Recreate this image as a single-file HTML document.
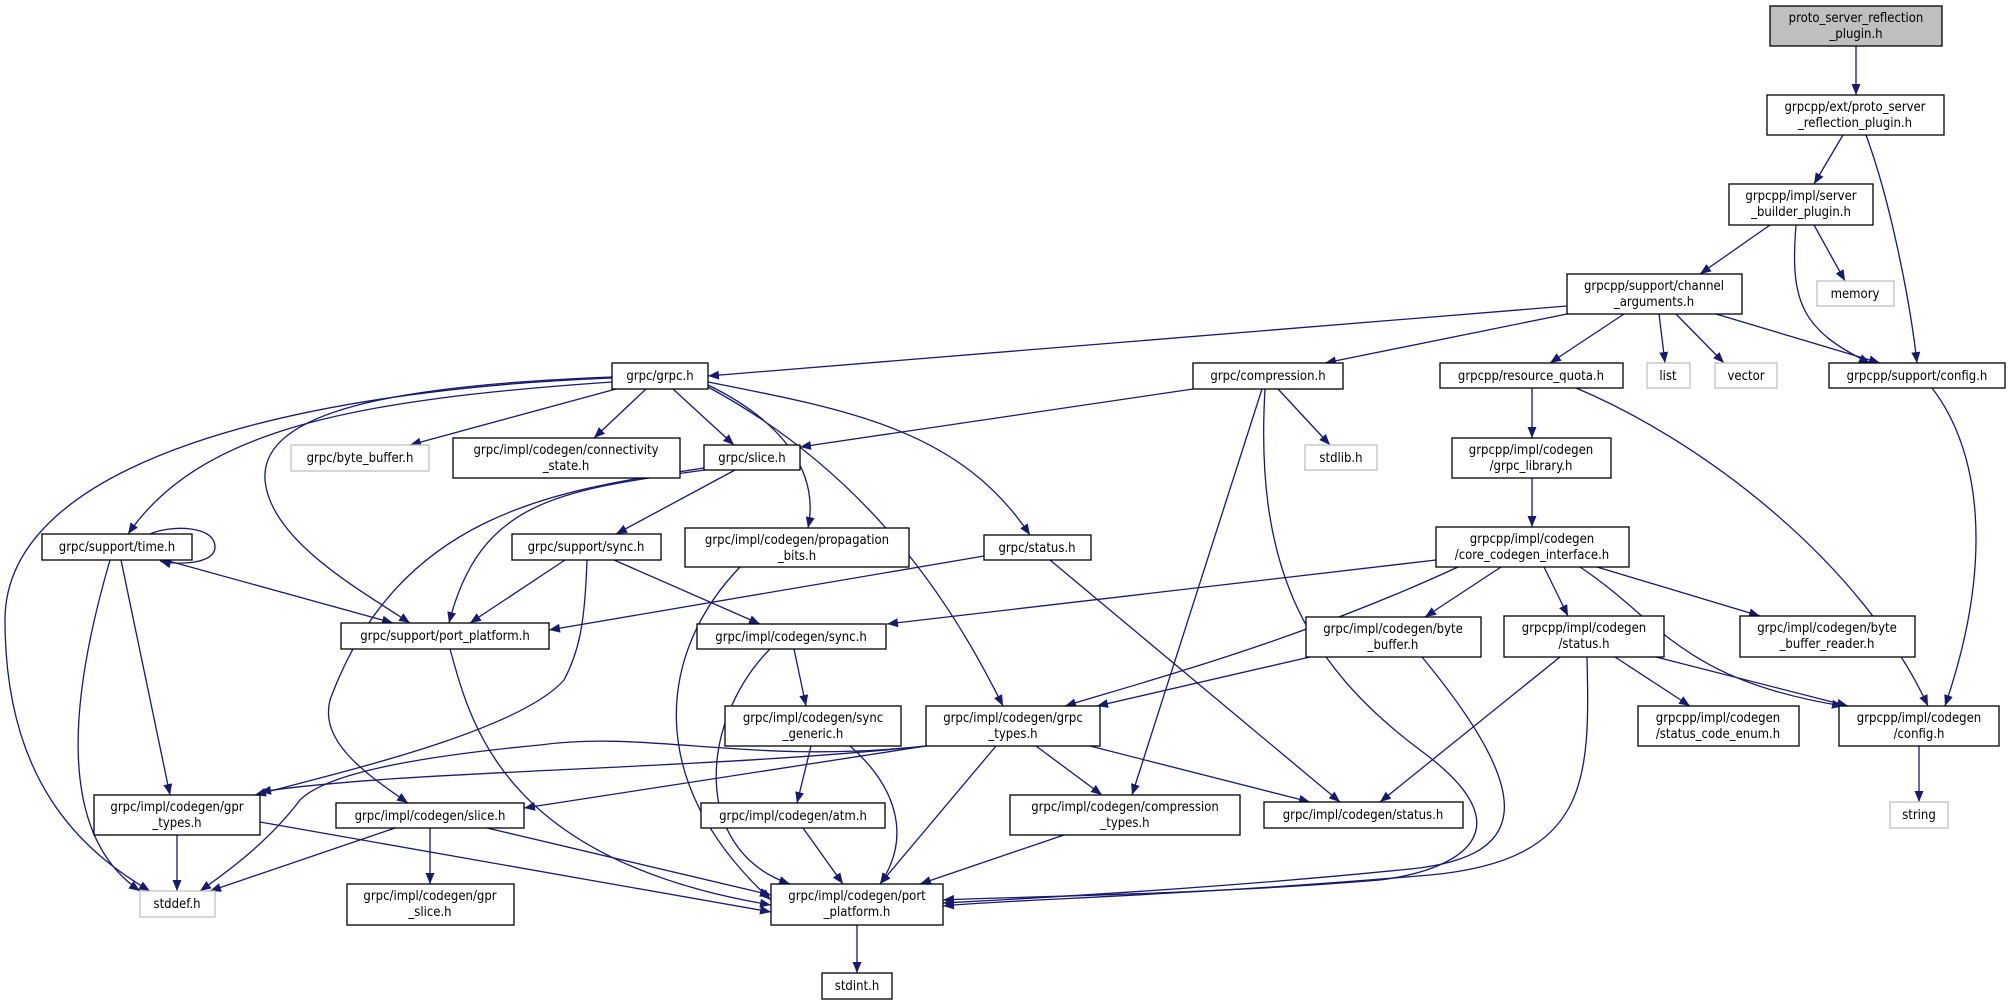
<!DOCTYPE html>
<html><head><meta charset="utf-8"><style>
html,body{margin:0;padding:0;background:#fff;width:2010px;height:1005px;overflow:hidden}
svg text{font-family:"DejaVu Sans Condensed","DejaVu Sans","Liberation Sans",sans-serif;font-stretch:condensed;font-size:13px;fill:#000;text-anchor:middle}
.n{fill:#fff;stroke:#000;stroke-width:1.3}
.g{fill:#fff;stroke:#bfbfbf;stroke-width:1.3}
.e{fill:none;stroke:#191970;stroke-width:1.3;marker-end:url(#a)}
</style></head><body>
<svg width="2010" height="1005" viewBox="0 0 2010 1005" xmlns="http://www.w3.org/2000/svg">
<defs><marker id="a" markerUnits="userSpaceOnUse" markerWidth="12" markerHeight="10" refX="11" refY="4.5" orient="auto"><path d="M0,0 L11,4.5 L0,9 z" fill="#191970"/></marker></defs>
<g>
<path class="e" d="M1856,46 L1856,95"/>
<path class="e" d="M1843,135 L1814,184"/>
<path class="e" d="M1866,135 C1890,200 1910,300 1917,363"/>
<path class="e" d="M1770,225 L1700,274"/>
<path class="e" d="M1814,225 L1845,281"/>
<path class="e" d="M1796,225 C1790,300 1800,330 1870,363"/>
<path class="e" d="M1567,306 L708,376"/>
<path class="e" d="M1567,314 L1325,363"/>
<path class="e" d="M1624,314 L1550,363"/>
<path class="e" d="M1659,314 L1665,363"/>
<path class="e" d="M1676,314 L1724,363"/>
<path class="e" d="M1716,314 L1880,363"/>
<path class="e" d="M1932,388 C1980,450 1995,560 1945,706"/>
<path class="e" d="M1532,388 L1532,438"/>
<path class="e" d="M1576,388 C1700,440 1860,560 1928,706"/>
<path class="e" d="M1532,478 L1532,527"/>
<path class="e" d="M1436,560 L887,624"/>
<path class="e" d="M1458,567 C1300,640 1150,680 1065,706"/>
<path class="e" d="M1501,567 L1425,617"/>
<path class="e" d="M1544,567 L1568,616"/>
<path class="e" d="M1597,567 L1760,616"/>
<path class="e" d="M1580,567 C1660,620 1680,680 1843,706"/>
<path class="e" d="M612,378 C300,390 5,460 5,620 C5,780 80,850 150,891"/>
<path class="e" d="M612,382 C350,400 200,430 128,534"/>
<path class="e" d="M612,377 C400,385 260,410 265,480 C270,540 360,590 410,623"/>
<path class="e" d="M616,389 L410,445"/>
<path class="e" d="M646,389 L594,438"/>
<path class="e" d="M673,389 L734,445"/>
<path class="e" d="M708,385 C780,420 820,470 808,528"/>
<path class="e" d="M708,387 C880,480 960,620 1003,706"/>
<path class="e" d="M708,382 C850,410 960,430 1030,535"/>
<path class="e" d="M1193,389 L800,447"/>
<path class="e" d="M1278,389 L1330,445"/>
<path class="e" d="M1262,389 L1132,795"/>
<path class="e" d="M1265,389 C1255,560 1300,660 1420,750 C1530,830 1460,870 1380,880 C1200,895 1000,897 943,900"/>
<path class="e" d="M705,470 C560,490 480,500 449,623"/>
<path class="e" d="M735,470 L616,534"/>
<path class="e" d="M704,468 C560,490 400,510 330,700 C320,740 360,770 408,803"/>
<path class="e" d="M150,534 C170,525 215,525 215,547 C215,565 175,565 160,561"/>
<path class="e" d="M165,560 L393,623"/>
<path class="e" d="M121,560 L170,795"/>
<path class="e" d="M110,560 C75,680 50,830 140,891"/>
<path class="e" d="M565,560 L470,623"/>
<path class="e" d="M614,560 L760,624"/>
<path class="e" d="M587,560 C585,620 580,650 564,680 C520,730 350,770 255,795"/>
<path class="e" d="M740,567 C660,650 640,780 771,900"/>
<path class="e" d="M984,556 L549,630"/>
<path class="e" d="M1050,560 L1340,802"/>
<path class="e" d="M450,649 C470,720 500,860 771,905"/>
<path class="e" d="M794,649 L806,706"/>
<path class="e" d="M770,649 C700,720 690,850 790,884"/>
<path class="e" d="M811,746 L797,803"/>
<path class="e" d="M850,746 C900,790 910,840 880,884"/>
<path class="e" d="M803,828 L843,884"/>
<path class="e" d="M926,746 C750,765 650,730 540,745 C380,760 320,780 300,800 C270,840 230,870 200,891"/>
<path class="e" d="M926,746 C700,770 400,770 260,792"/>
<path class="e" d="M926,746 L524,808"/>
<path class="e" d="M996,746 L880,884"/>
<path class="e" d="M1036,746 L1102,795"/>
<path class="e" d="M1090,746 L1310,802"/>
<path class="e" d="M1310,657 L1097,706"/>
<path class="e" d="M1422,657 C1540,800 1530,860 1400,870 C1200,890 1000,900 943,903"/>
<path class="e" d="M1560,657 L1380,802"/>
<path class="e" d="M1615,657 L1690,706"/>
<path class="e" d="M1656,657 L1848,706"/>
<path class="e" d="M1587,657 C1590,780 1590,860 1430,875 C1200,895 1000,900 943,906"/>
<path class="e" d="M1919,746 L1919,802"/>
<path class="e" d="M177,835 L177,891"/>
<path class="e" d="M260,822 L771,912"/>
<path class="e" d="M395,828 L210,891"/>
<path class="e" d="M430,828 L430,884"/>
<path class="e" d="M487,828 L771,895"/>
<path class="e" d="M1064,835 L920,884"/>
<path class="e" d="M857,925 L857,973"/>
</g>
<g>
<rect x="1770" y="6" width="172" height="40" fill="#bfbfbf" stroke="#000" stroke-width="1.3"/>
<text x="1856" y="22">proto_server_reflection</text><text x="1856" y="38">_plugin.h</text>
<rect class="n" x="1767" y="95" width="177" height="40"/><text x="1855" y="111">grpcpp/ext/proto_server</text><text x="1855" y="127">_reflection_plugin.h</text>
<rect class="n" x="1729" y="184" width="144" height="41"/><text x="1801" y="200">grpcpp/impl/server</text><text x="1801" y="216">_builder_plugin.h</text>
<rect class="n" x="1567" y="274" width="175" height="40"/><text x="1654" y="290">grpcpp/support/channel</text><text x="1654" y="306">_arguments.h</text>
<rect class="g" x="1817" y="281" width="77" height="25"/><text x="1855" y="298">memory</text>
<rect class="n" x="1440" y="363" width="183" height="25"/><text x="1531" y="380">grpcpp/resource_quota.h</text>
<rect class="g" x="1647" y="363" width="43" height="25"/><text x="1668" y="380">list</text>
<rect class="g" x="1715" y="363" width="62" height="25"/><text x="1746" y="380">vector</text>
<rect class="n" x="1829" y="363" width="176" height="25"/><text x="1917" y="380">grpcpp/support/config.h</text>
<rect class="n" x="1193" y="363" width="150" height="26"/><text x="1268" y="380">grpc/compression.h</text>
<rect class="n" x="612" y="363" width="96" height="26"/><text x="660" y="380">grpc/grpc.h</text>
<rect class="n" x="1452" y="438" width="159" height="40"/><text x="1531" y="454">grpcpp/impl/codegen</text><text x="1531" y="470">/grpc_library.h</text>
<rect class="g" x="1305" y="445" width="72" height="25"/><text x="1341" y="462">stdlib.h</text>
<rect class="g" x="291" y="445" width="138" height="26"/><text x="360" y="462">grpc/byte_buffer.h</text>
<rect class="n" x="453" y="438" width="227" height="40"/><text x="566" y="454">grpc/impl/codegen/connectivity</text><text x="566" y="470">_state.h</text>
<rect class="n" x="704" y="445" width="96" height="25"/><text x="752" y="462">grpc/slice.h</text>
<rect class="n" x="42" y="534" width="150" height="26"/><text x="117" y="551">grpc/support/time.h</text>
<rect class="n" x="512" y="534" width="149" height="26"/><text x="586" y="551">grpc/support/sync.h</text>
<rect class="n" x="685" y="528" width="224" height="39"/><text x="797" y="544">grpc/impl/codegen/propagation</text><text x="797" y="560">_bits.h</text>
<rect class="n" x="984" y="535" width="107" height="25"/><text x="1037" y="552">grpc/status.h</text>
<rect class="n" x="1436" y="527" width="193" height="40"/><text x="1532" y="543">grpcpp/impl/codegen</text><text x="1532" y="559">/core_codegen_interface.h</text>
<rect class="n" x="341" y="623" width="208" height="26"/><text x="445" y="640">grpc/support/port_platform.h</text>
<rect class="n" x="697" y="624" width="189" height="25"/><text x="791" y="641">grpc/impl/codegen/sync.h</text>
<rect class="n" x="1306" y="617" width="175" height="40"/><text x="1393" y="633">grpc/impl/codegen/byte</text><text x="1393" y="649">_buffer.h</text>
<rect class="n" x="1504" y="616" width="160" height="41"/><text x="1584" y="632">grpcpp/impl/codegen</text><text x="1584" y="648">/status.h</text>
<rect class="n" x="1740" y="616" width="175" height="41"/><text x="1827" y="632">grpc/impl/codegen/byte</text><text x="1827" y="648">_buffer_reader.h</text>
<rect class="n" x="926" y="706" width="174" height="40"/><text x="1013" y="722">grpc/impl/codegen/grpc</text><text x="1013" y="738">_types.h</text>
<rect class="n" x="725" y="706" width="176" height="40"/><text x="813" y="722">grpc/impl/codegen/sync</text><text x="813" y="738">_generic.h</text>
<rect class="n" x="1638" y="706" width="161" height="40"/><text x="1718" y="722">grpcpp/impl/codegen</text><text x="1718" y="738">/status_code_enum.h</text>
<rect class="n" x="1839" y="706" width="160" height="40"/><text x="1919" y="722">grpcpp/impl/codegen</text><text x="1919" y="738">/config.h</text>
<rect class="n" x="94" y="795" width="166" height="40"/><text x="177" y="811">grpc/impl/codegen/gpr</text><text x="177" y="827">_types.h</text>
<rect class="n" x="336" y="803" width="188" height="25"/><text x="430" y="820">grpc/impl/codegen/slice.h</text>
<rect class="n" x="701" y="803" width="184" height="25"/><text x="793" y="820">grpc/impl/codegen/atm.h</text>
<rect class="n" x="1010" y="795" width="230" height="40"/><text x="1125" y="811">grpc/impl/codegen/compression</text><text x="1125" y="827">_types.h</text>
<rect class="n" x="1264" y="802" width="199" height="26"/><text x="1363" y="819">grpc/impl/codegen/status.h</text>
<rect class="g" x="1890" y="802" width="58" height="26"/><text x="1919" y="819">string</text>
<rect class="g" x="140" y="891" width="75" height="26"/><text x="177" y="908">stddef.h</text>
<rect class="n" x="347" y="884" width="167" height="41"/><text x="430" y="900">grpc/impl/codegen/gpr</text><text x="430" y="916">_slice.h</text>
<rect class="n" x="771" y="884" width="172" height="41"/><text x="857" y="900">grpc/impl/codegen/port</text><text x="857" y="916">_platform.h</text>
<rect class="n" x="822" y="973" width="70" height="26"/><text x="857" y="990">stdint.h</text>
</g>
</svg>
</body></html>
